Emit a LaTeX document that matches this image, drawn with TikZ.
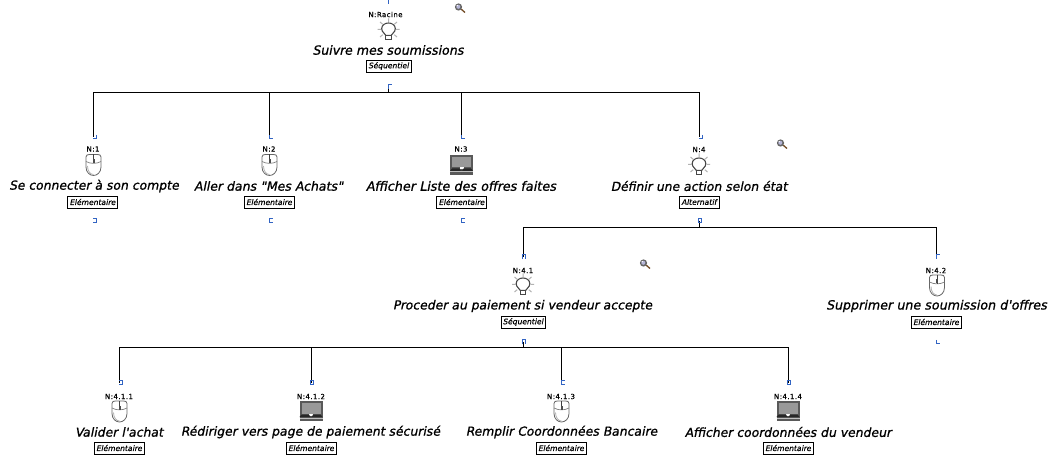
\documentclass[tikz,border=0pt]{standalone}
\usepackage{fontspec}
\setmainfont{DejaVu Sans}
\newfontfamily\ttlfont[FakeBold=1.0,FakeSlant=0.2]{DejaVu Sans}
\newfontfamily\tagfont[FakeBold=0.5,LetterSpace=6]{DejaVu Sans}
\newfontfamily\kindfont[FakeBold=0.6,FakeSlant=0.2]{DejaVu Sans}
\definecolor{port}{RGB}{50,100,195}
\begin{document}
\begin{tikzpicture}[x=1pt,y=-1pt,
  ntag/.style={inner sep=0pt,font=\fontsize{7}{8}\tagfont},
  ttl/.style={inner sep=0pt,font=\fontsize{12.4}{13}\ttlfont},
  ttlw/.style={font=\fontsize{#1}{13}\ttlfont},
  kind/.style={draw=black,line width=0.9pt,inner sep=0pt,minimum height=12pt,font=\fontsize{7.6}{8}\kindfont},
  conn/.style={draw=black,line width=1pt},
  mk/.style={draw=port,line width=1pt},
  bulb/.pic={
    \draw[gray!60,line width=1pt] (-11,-1)--(-7.5,-1) (7.5,-1)--(11,-1) (-8.5,-8.5)--(-5.8,-6.2) (8.5,-8.5)--(5.8,-6.2) (0,-12)--(0,-8.5) (-8.5,6.5)--(-5.8,4.2) (8.5,6.5)--(5.8,4.2);
    \draw[black!72,fill=white,line width=1.1pt] (-2.6,5) .. controls (-3.2,2.8) and (-6.8,2) .. (-6.8,-1.8) .. controls (-6.8,-5.5) and (-3.4,-7.5) .. (0,-7.5) .. controls (3.4,-7.5) and (6.8,-5.5) .. (6.8,-1.8) .. controls (6.8,2) and (3.2,2.8) .. (2.6,5) -- cycle;
    \draw[black!72,fill=white,line width=1pt] (-2.8,5) rectangle (2.8,9.5);
  },
  mouse/.pic={
    \draw[black!60,fill=white,line width=0.8pt] (-7.5,-8) .. controls (-7.5,-10) and (-6,-10.5) .. (-4,-10.5) -- (4,-10.5) .. controls (6,-10.5) and (7.5,-10) .. (7.5,-8) -- (7.5,2) .. controls (7.5,7.5) and (3.5,10.5) .. (0,10.5) .. controls (-3.5,10.5) and (-7.5,7.5) .. (-7.5,2) -- cycle;
    \draw[black!50,line width=0.7pt] (-7.5,-3.5) .. controls (-3,-1) and (3,-1) .. (7.5,-3.5);
    \draw[black!75,line width=1pt] (0,-10.5) -- (0,-1.5);
    \fill[black!70] (-1,-6) rectangle (1,-2);
    \draw[black!30,line width=0.8pt] (-6,1) .. controls (-6,6.5) and (-3,9.5) .. (0,9.5);
  },
  screen/.pic={
    \fill[black!65] (-11.5,-10.5) rectangle (11.5,9.5);
    \fill[black!40] (-9.5,-8.5) rectangle (9.5,2);
    \fill[white] (-2,2) rectangle (2,4);
    \fill[black!85] (-9.5,3) -- (-2,3) -- (-1,5) -- (1,5) -- (2,3) -- (9.5,3) -- (11.5,5.5) -- (-11.5,5.5) -- cycle;
    \fill[white!75!black] (-11.5,6) rectangle (11.5,6.6);
  },
  lens/.pic={
    \draw[brown!60!black,line width=1.3pt] (1,1) -- (5,4.5);
    \fill[black!60] (-1.5,-1) circle (3.6);
    \fill[blue!30!gray!45] (-1.7,-1.2) circle (2);
    \fill[white] (-2.8,-2.4) circle (0.7);
  }]
\useasboundingbox (0,0) rectangle (1050,462);
\fill[white] (0,0) rectangle (1050,462);

% ---- texts
\node[ntag] (nR) at (385.5,14.5) {N:Racine};
\node[ttl,ttlw=12.6] (tR) at (388,50) {Suivre mes soumissions};
\node[kind,minimum width=45pt] (kR) at (388.5,66) {Séquentiel};

\node[ntag] (n1) at (93,149) {N:1};
\node[ttl] (t1) at (94,186) {Se connecter à son compte};
\node[kind,minimum width=50pt] (k1) at (92.5,202) {Elémentaire};
\node[ntag] (n2) at (269,149) {N:2};
\node[ttl,ttlw=12.5] (t2) at (268.5,186) {Aller dans "Mes Achats"};
\node[kind,minimum width=50pt] (k2) at (269,202) {Elémentaire};
\node[ntag] (n3) at (461,149) {N:3};
\node[ttl,ttlw=12.8] (t3) at (461,186) {Afficher Liste des offres faites};
\node[kind,minimum width=50pt] (k3) at (461.5,202) {Elémentaire};
\node[ntag] (n4) at (699,149.5) {N:4};
\node[ttl] (t4) at (699,186) {Définir une action selon état};
\node[kind,minimum width=40pt] (k4) at (699,202) {Alternatif};

\node[ntag] (n41) at (523,270.5) {N:4.1};
\node[ttl] (t41) at (522.5,306) {Proceder au paiement si vendeur accepte};
\node[kind,minimum width=44pt] (k41) at (523,322) {Séquentiel};
\node[ntag] (n42) at (936,270.5) {N:4.2};
\node[ttl,ttlw=12.7] (t42) at (936.5,306) {Supprimer une soumission d'offres};
\node[kind,minimum width=50pt] (k42) at (936,322) {Elémentaire};

\node[ntag] (n411) at (119,396.5) {N:4.1.1};
\node[ttl] (t411) at (119,432) {Valider l'achat};
\node[kind,minimum width=50pt] (k411) at (119,448) {Elémentaire};
\node[ntag] (n412) at (311,396.5) {N:4.1.2};
\node[ttl] (t412) at (310.5,432) {Rédiriger vers page de paiement sécurisé};
\node[kind,minimum width=50pt] (k412) at (311,448) {Elémentaire};
\node[ntag] (n413) at (561,396.5) {N:4.1.3};
\node[ttl] (t413) at (561.5,432) {Remplir Coordonnées Bancaire};
\node[kind,minimum width=50pt] (k413) at (561,448) {Elémentaire};
\node[ntag] (n414) at (788,396.5) {N:4.1.4};
\node[ttl] (t414) at (788,432) {Afficher coordonnées du vendeur};
\node[kind,minimum width=50pt] (k414) at (788,448) {Elémentaire};

% ---- icons
\pic at (388.5,30.5) {bulb};
\pic at (93.5,165) {mouse};
\pic at (269.5,165) {mouse};
\pic at (461.5,165.5) {screen};
\pic at (699,165.5) {bulb};
\pic at (523,285.5) {bulb};
\pic at (937,285.5) {mouse};
\pic at (119.5,411.5) {mouse};
\pic at (311,411.5) {screen};
\pic at (561.5,411.5) {mouse};
\pic at (788,411.5) {screen};
\pic at (460,8) {lens};
\pic at (782,144) {lens};
\pic at (645,264) {lens};

% ---- port coordinates
\coordinate (pR) at (388,87);
\coordinate (q1) at (93,137);
\coordinate (q2) at (269,137);
\coordinate (q3) at (461,137);
\coordinate (q4) at (699,137);
\coordinate (p4) at (699,221);
\coordinate (q41) at (523,257);
\coordinate (q42) at (936,257);
\coordinate (p41) at (523,342);
\coordinate (q411) at (119,383);
\coordinate (q412) at (311,383);
\coordinate (q413) at (561,383);
\coordinate (q414) at (788,383);
\coordinate (bR) at (388,93);
\coordinate (b4) at (699,228);
\coordinate (b41) at (523,348);

% ---- connectors
\draw[conn] (pR) -- (bR);
\foreach \c in {q1,q2,q3,q4} \draw[conn] (bR) -| (\c);
\draw[conn] (p4) -- (b4);
\foreach \c in {q41,q42} \draw[conn] (b4) -| (\c);
\draw[conn] (p41) -- (b41);
\foreach \c in {q411,q412,q413,q414} \draw[conn] (b41) -| (\c);

% ---- little blue port marks
\foreach \x/\y in {388/87,388/2,936/257}
  \draw[mk] (\x,\y+2) -- (\x,\y-2) -- (\x+3.5,\y-2);
\foreach \x/\y in {93/137,699/137}
  \draw[mk] (\x+3,\y-2) -- (\x+3,\y+2) -- (\x,\y+2);
\foreach \x/\y in {269/137,461/137,936/342}
  \draw[mk] (\x,\y-2) -- (\x,\y+2) -- (\x+3.5,\y+2);
\foreach \x/\y in {269/221,461/221,561/383}
  \draw[mk] (\x+3.5,\y-2) -- (\x,\y-2) -- (\x,\y+2) -- (\x+3.5,\y+2);
\foreach \x/\y in {93/221,119/383}
  \draw[mk] (\x,\y-2) -- (\x+3.5,\y-2) -- (\x+3.5,\y+2) -- (\x,\y+2);
\foreach \x/\y in {699/221,311/383,788/383}
  \draw[mk] (\x-1,\y-2) rectangle (\x+2.5,\y+2);
\foreach \x/\y in {523/257,523/342}
  \draw[mk] (\x-1,\y+2.5) -- (\x-1,\y-2) -- (\x+2.5,\y-2) -- (\x+2.5,\y+2.5);
\end{tikzpicture}
\end{document}
